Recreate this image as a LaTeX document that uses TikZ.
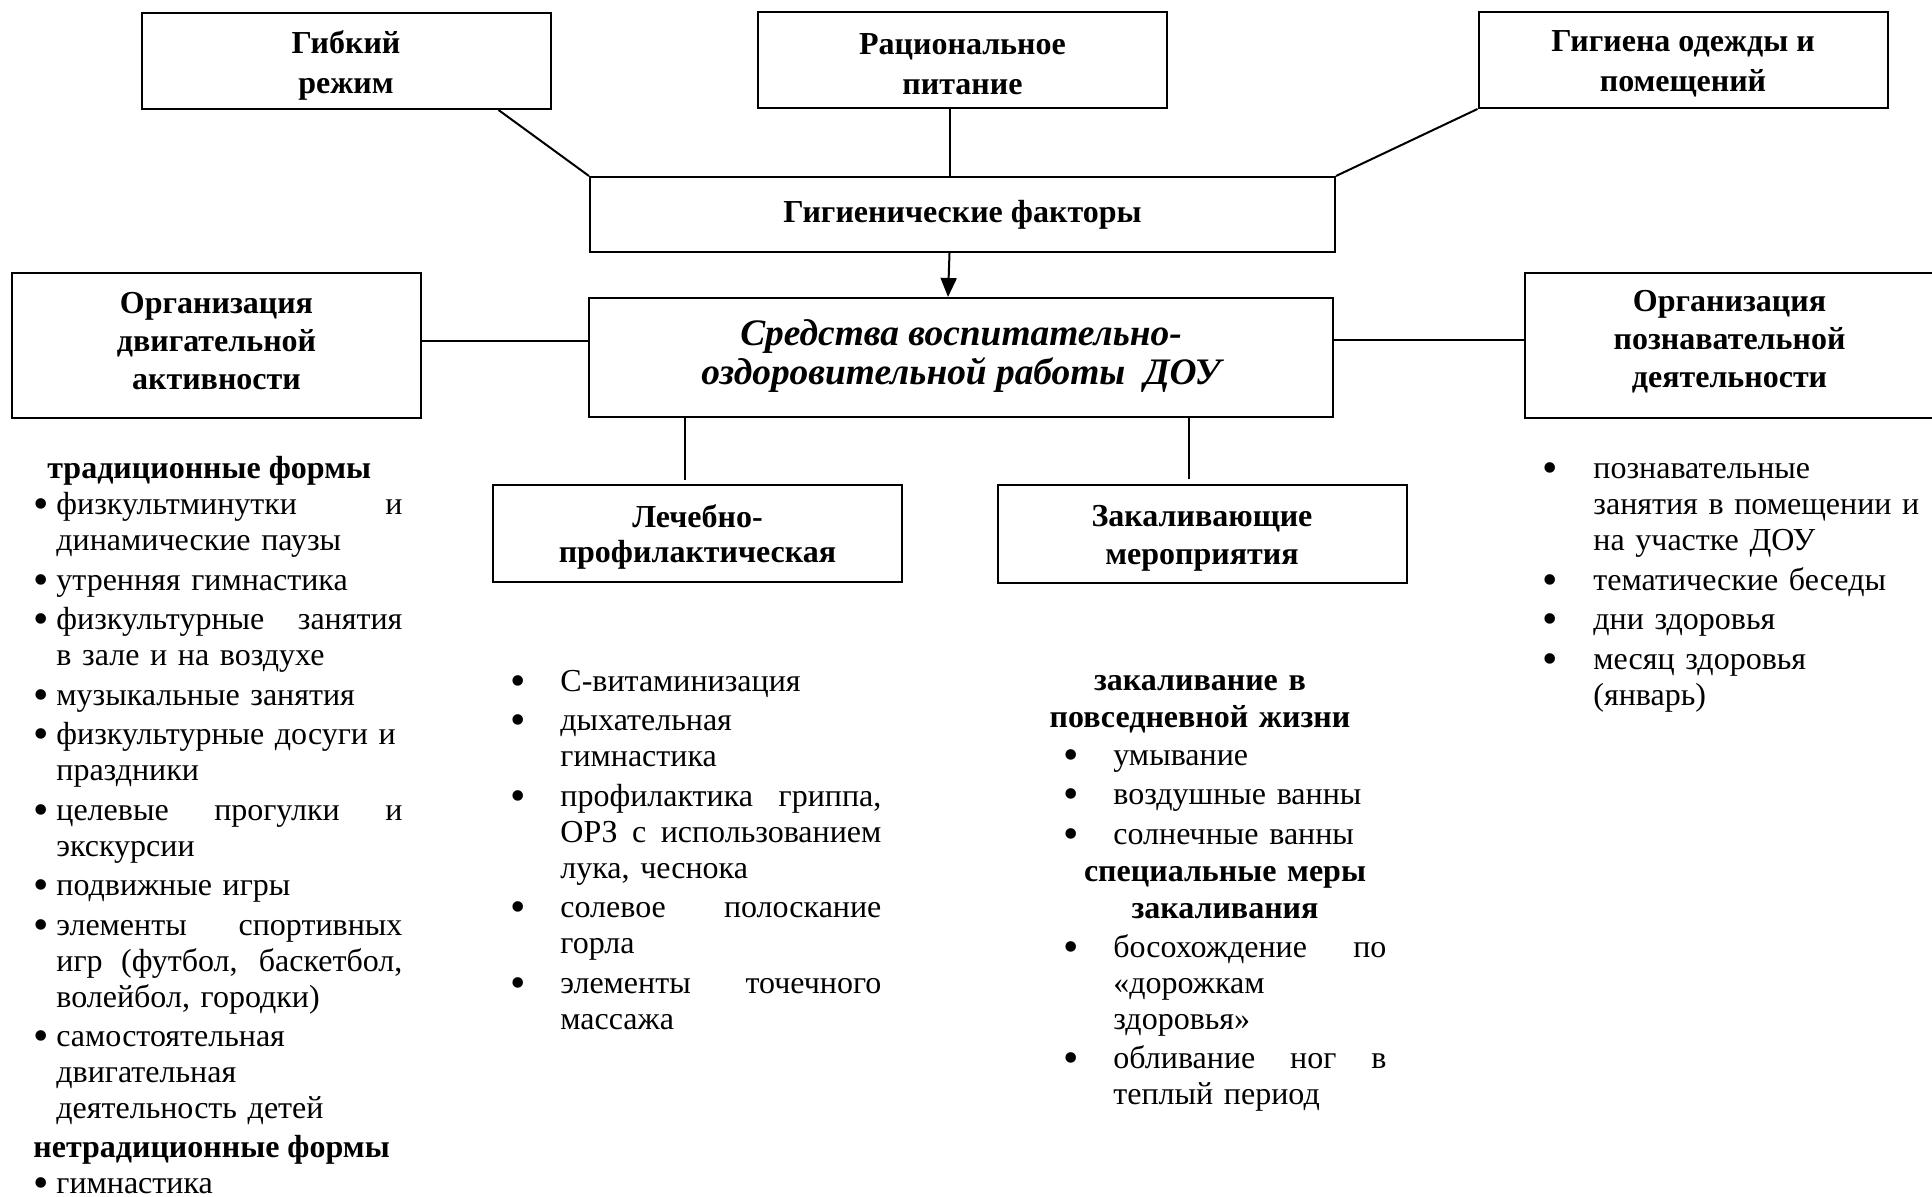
\documentclass[tikz,border=0pt]{standalone}
\usepackage{fontspec}
\setmainfont{Liberation Serif}
\usetikzlibrary{arrows.meta}

\newcommand{\bul}[1]{\leavevmode\llap{\makebox[#1][c]{\raisebox{-2pt}{\fontsize{22}{18}\selectfont\textbullet}}}}
\newcommand{\jl}[2]{\leavevmode\hbox to #1{\spaceskip=0.25em plus 1fil\relax #2}}

\tikzset{
    box/.style={draw, line width=1pt, inner sep=0pt,
        minimum width=204.5pt, minimum height=48pt},
    boxtext/.style={align=center, inner sep=0pt,
        font=\fontsize{16}{19}\selectfont\bfseries},
    link/.style={line width=1pt},
    head/.style={inner sep=0pt, font=\fontsize{16}{18.5}\selectfont\bfseries},
    list/.style={inner sep=0pt, align=left, font=\fontsize{16}{18}\selectfont}
}

\begin{document}
\begin{tikzpicture}[x=0.5pt, y=-0.5pt]
    \def\gap{1.75pt}
    \useasboundingbox (0,0) rectangle (1932,1197);

    % Top boxes
    \node[box] (flex) at (346,61) {};
    \node[box] (food) at (962.5,60) {};
    \node[box] (cloth) at (1683,60) {};
    \node[boxtext, font=\fontsize{16}{20}\selectfont\bfseries] (flexText) at ([yshift=-2pt]flex.center) {Гибкий\\режим};
    \node[boxtext, font=\fontsize{16}{20}\selectfont\bfseries] (foodText) at ([yshift=-2pt]food.center) {Рациональное\\питание};
    \node[boxtext, font=\fontsize{16}{20}\selectfont\bfseries] (clothText) at ([yshift=-2pt]cloth.center) {Гигиена одежды и\\помещений};

    % Hygiene
    \node[box, minimum width=372.5pt, minimum height=37.5pt] (hyg) at (962.5,214.5) {};
    \node[boxtext] (hygText) at (hyg.center) {Гигиенические факторы};

    % Centre
    \node[box, minimum width=372pt, minimum height=59.5pt] (main) at (961,357.5) {};
    \node[boxtext, font=\fontsize{18.7}{19.5}\selectfont\bfseries\itshape] (mainText) at ([yshift=0.5pt]main.center)
        {Средства воспитательно-\\оздоровительной работы~~ДОУ};

    % Side boxes
    \node[box, minimum height=72.5pt] (motor) at (216.5,345.5) {};
    \node[box, minimum height=72.5pt] (cogn) at (1729.5,345.5) {};
    \node[boxtext] (motorText) at ([yshift=2pt]motor.center) {Организация\\двигательной\\активности};
    \node[boxtext] (cognText) at ([yshift=2pt]cogn.center) {Организация\\познавательной\\деятельности};

    % Lower boxes
    \node[box, minimum height=48.5pt] (med) at (697.5,533.5) {};
    \node[box, minimum height=48.5pt] (hard) at (1202,534) {};
    \node[boxtext, font=\fontsize{16}{17.5}\selectfont\bfseries] (medText) at ([yshift=-1.5pt]med.center) {Лечебно-\\профилактическая};
    \node[boxtext] (hardText) at ([yshift=-2pt]hard.center) {Закаливающие\\мероприятия};

    % Links
    \draw[link] ([xshift=-26.5pt]flex.south east) -- (hyg.north west);
    \draw[link] ([xshift=-6.5pt]food.south) -- ([xshift=-6.5pt]hyg.north);
    \draw[link] (cloth.south west) -- (hyg.north east);
    \draw[link, -{Triangle[length=9.5pt, width=8pt]}]
        ([xshift=-6.5pt]hyg.south) -- ([xshift=-6.5pt]main.north);
    \draw[link] ([yshift=2.25pt]motor.east) -- ([yshift=2.25pt]motor.east -| main.west);
    \draw[link] ([yshift=2.5pt]cogn.west) -- ([yshift=2.5pt]cogn.west -| main.east);
    \coordinate (medTop) at ([xshift=-6.5pt, yshift=2pt]med.north);
    \coordinate (hardTop) at ([xshift=-6.5pt, yshift=2.5pt]hard.north);
    \draw[link] (medTop) -- (medTop |- main.south);
    \draw[link] (hardTop) -- (hardTop |- main.south);

    % Motor activity list
    \def\w{173pt}
    \node[head, anchor=base west] (tradHead) at (47,479) {традиционные формы};
    \node[list, text width=\w, anchor=base west] (tradList) at (56,515) {%
        \bul{15pt}\jl{\w}{физкультминутки и}\\
        динамические паузы\\[\gap]
        \bul{15pt}утренняя гимнастика\\[\gap]
        \bul{15pt}\jl{\w}{физкультурные занятия}\\
        в зале и на воздухе\\[\gap]
        \bul{15pt}музыкальные занятия\\[\gap]
        \bul{15pt}физкультурные досуги и\\
        праздники\\[\gap]
        \bul{15pt}\jl{\w}{целевые прогулки и}\\
        экскурсии\\[\gap]
        \bul{15pt}подвижные игры\\[\gap]
        \bul{15pt}\jl{\w}{элементы спортивных}\\
        \jl{\w}{игр (футбол, баскетбол,}\\
        волейбол, городки)\\[\gap]
        \bul{15pt}самостоятельная\\
        двигательная\\
        деятельность детей};
    \node[head, anchor=base west] (nontradHead) at (33,1157) {нетрадиционные формы};
    \node[list, anchor=base west] (nontradList) at (56,1193) {\bul{15pt}гимнастика};

    % Medical list
    \def\w{160.5pt}
    \node[list, text width=\w, anchor=base west] (medList) at (560,691) {%
        \bul{42pt}С-витаминизация\\[\gap]
        \bul{42pt}дыхательная\\
        гимнастика\\[\gap]
        \bul{42pt}\jl{\w}{профилактика гриппа,}\\
        \jl{\w}{ОРЗ с использованием}\\
        лука, чеснока\\[\gap]
        \bul{42pt}\jl{\w}{солевое полоскание}\\
        горла\\[\gap]
        \bul{42pt}\jl{\w}{элементы точечного}\\
        массажа};

    % Hardening lists
    \def\w{136.5pt}
    \node[head, text width=200pt, align=center, anchor=base] (hardHeadA) at (1200,690)
        {закаливание в\\повседневной жизни};
    \node[list, text width=\w, anchor=base west] (hardListA) at (1113,765) {%
        \bul{42pt}умывание\\[\gap]
        \bul{42pt}воздушные ванны\\[\gap]
        \bul{42pt}солнечные ванны};
    \node[head, text width=200pt, align=center, anchor=base] (hardHeadB) at (1225,881)
        {специальные меры\\закаливания};
    \node[list, text width=\w, anchor=base west] (hardListB) at (1113,957) {%
        \bul{42pt}\jl{\w}{босохождение по}\\
        «дорожкам\\
        здоровья»\\[\gap]
        \bul{42pt}\jl{\w}{обливание ног в}\\
        теплый период};

    % Cognitive list
    \node[list, text width=165pt, anchor=base west] (cognList) at (1593,479) {%
        \bul{43pt}познавательные\\
        занятия в помещении и\\
        на участке ДОУ\\[\gap]
        \bul{43pt}тематические беседы\\[\gap]
        \bul{43pt}дни здоровья\\[\gap]
        \bul{43pt}месяц здоровья\\
        (январь)};

\end{tikzpicture}
\end{document}
